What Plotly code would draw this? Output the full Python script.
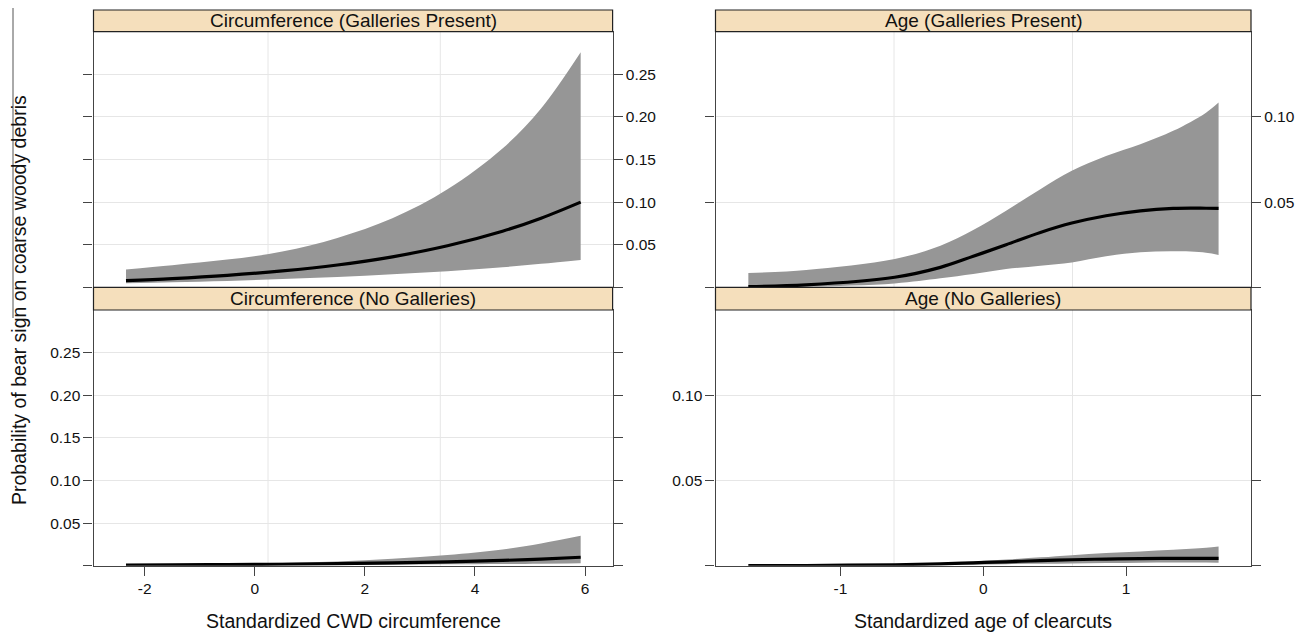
import plotly.graph_objects as go

# ---------------- data ----------------
circ_x = [-2.34, -1.5, -0.5, 0.5, 1.5, 2.5, 3.5, 4.5, 5.2, 5.92]
circ_gal_fit = [0.0078, 0.0102, 0.0140, 0.0192, 0.0262, 0.0358, 0.0487, 0.0658, 0.0811, 0.100]
circ_gal_upper = [0.021, 0.026, 0.0325, 0.042, 0.058, 0.081, 0.115, 0.163, 0.210, 0.276]
circ_gal_lower = [0.0048, 0.0060, 0.0075, 0.0098, 0.0120, 0.0152, 0.0188, 0.0235, 0.0275, 0.032]
circ_nog_fit = [0.0007, 0.0009, 0.0013, 0.0017, 0.0024, 0.0033, 0.0045, 0.0062, 0.0078, 0.0099]
circ_nog_upper = [0.0013, 0.0018, 0.0025, 0.0035, 0.0050, 0.0082, 0.0125, 0.019, 0.026, 0.035]
circ_nog_lower = [0.0003, 0.0004, 0.0005, 0.0007, 0.0009, 0.0012, 0.0016, 0.0019, 0.0023, 0.0028]

age_x = [-1.645, -1.24, -0.62, -0.30, -0.07, 0.16, 0.40, 0.62, 0.86, 1.10, 1.33, 1.56, 1.648]
age_gal_fit = [0.0004, 0.0014, 0.0059, 0.0117, 0.0182, 0.025, 0.0322, 0.0377, 0.042, 0.0449, 0.0463, 0.0464, 0.0463]
age_gal_upper = [0.0084, 0.0102, 0.0166, 0.0244, 0.0336, 0.0449, 0.0576, 0.0684, 0.0771, 0.084, 0.0918, 0.1025, 0.1084]
age_gal_lower = [0.0001, 0.0004, 0.0023, 0.0053, 0.0078, 0.0107, 0.0127, 0.0146, 0.0182, 0.0205, 0.0211, 0.0203, 0.019]
age_nog_fit = [0.00004, 0.00013, 0.00055, 0.0011, 0.0017, 0.0023, 0.0030, 0.0035, 0.0039, 0.0042, 0.0043, 0.0043, 0.0043]
age_nog_upper = [0.0002, 0.0004, 0.0009, 0.0016, 0.0025, 0.0036, 0.0049, 0.0062, 0.0074, 0.0084, 0.0094, 0.0105, 0.0112]
age_nog_lower = [0.00001, 0.00003, 0.0002, 0.0004, 0.0006, 0.0009, 0.0011, 0.0013, 0.0016, 0.0018, 0.0019, 0.0019, 0.0018]

strip_titles = ["Circumference (Galleries Present)", "Circumference (No Galleries)",
                "Age (Galleries Present)", "Age (No Galleries)"]
x_titles = ["Standardized CWD circumference", "Standardized age of clearcuts"]
y_title = "Probability of bear sign on coarse woody debris"

circ_xticks = [-2, 0, 2, 4, 6]
circ_xtext = ["-2", "0", "2", "4", "6"]
age_xticks = [-1, 0, 1]
age_xtext = ["-1", "0", "1"]
circ_yticks = [0, 0.05, 0.10, 0.15, 0.20, 0.25]
circ_ytext = ["", "0.05", "0.10", "0.15", "0.20", "0.25"]
age_yticks = [0, 0.05, 0.10]
age_ytext = ["", "0.05", "0.10"]
circ_grid_x = [0.24, 3.37]
age_grid_x = [-0.625, 0.625]

# ---------------- layout geometry ----------------
# page has an 8px body margin, so the figure starts at (8, 8) on the page
OFF = 8
W, H = 1306 - OFF, 633 - OFF
def px(v): return (v - OFF) / W
def py(v): return 1 - (v - OFF) / H

left_dom = [px(93.5), px(612.6)]
right_dom = [px(715.5), px(1251)]
top_dom = [py(287.3), py(31.7)]
bot_dom = [py(565.7), py(310)]
top_strip = [py(31.7), py(10)]
bot_strip = [py(310), py(287.3)]

FONT = "Liberation Sans, Arial, Helvetica, sans-serif"
BAND = "rgb(150,150,150)"
FRAME = "#444444"
GRID = "#e6e6e6"
STRIP = "#F5DFBC"

fig = go.Figure()

panels = [
    ("x", "y", circ_x, circ_gal_fit, circ_gal_upper, circ_gal_lower),
    ("x2", "y2", circ_x, circ_nog_fit, circ_nog_upper, circ_nog_lower),
    ("x3", "y3", age_x, age_gal_fit, age_gal_upper, age_gal_lower),
    ("x4", "y4", age_x, age_nog_fit, age_nog_upper, age_nog_lower),
]

for xa, ya, xs, fit, up, lo in panels:
    fig.add_trace(go.Scatter(x=xs, y=lo, xaxis=xa, yaxis=ya, mode="lines",
                             line=dict(width=0, color=BAND, shape="spline"),
                             hoverinfo="skip", showlegend=False))
    fig.add_trace(go.Scatter(x=xs, y=up, xaxis=xa, yaxis=ya, mode="lines",
                             line=dict(width=0, color=BAND, shape="spline"),
                             fill="tonexty", fillcolor=BAND,
                             hoverinfo="skip", showlegend=False))
    fig.add_trace(go.Scatter(x=xs, y=fit, xaxis=xa, yaxis=ya, mode="lines",
                             line=dict(width=3.2, color="black", shape="spline"),
                             showlegend=False))

tickfont = dict(family=FONT, size=15.5, color="#111111")
circ_range = [-2.93, 6.50]
age_range = [-1.875, 1.875]

def xax(dom, rng, anchor, ticks_on, tickvals, ticktext):
    d = dict(domain=dom, range=rng, anchor=anchor, showline=True, mirror=True,
             linecolor=FRAME, linewidth=1.2, showgrid=False, zeroline=False,
             tickfont=tickfont, fixedrange=True)
    if ticks_on:
        d.update(ticks="outside", ticklen=9, tickwidth=1.2, tickcolor=FRAME,
                 tickvals=tickvals, ticktext=ticktext, showticklabels=True)
    else:
        d.update(ticks="", showticklabels=False)
    return d

def yax(dom, rng, anchor, side, tickvals, ticktext):
    return dict(domain=dom, range=rng, anchor=anchor, side=side, showline=True,
                mirror="ticks", linecolor=FRAME, linewidth=1.2, ticks="outside",
                ticklen=9, tickwidth=1.2, tickcolor=FRAME, tickvals=tickvals,
                ticktext=ticktext, showgrid=True, gridcolor=GRID, gridwidth=1,
                zeroline=False, tickfont=tickfont, fixedrange=True)

fig.update_layout(
    width=W, height=H,
    margin=dict(l=0, r=0, t=0, b=0),
    paper_bgcolor="white", plot_bgcolor="white",
    font=dict(family=FONT, color="#111111"),
    xaxis=xax(left_dom, circ_range, "y", False, circ_xticks, circ_xtext),
    yaxis=yax(top_dom, [0, 0.30], "x", "right", circ_yticks, circ_ytext),
    xaxis2=xax(left_dom, circ_range, "y2", True, circ_xticks, circ_xtext),
    yaxis2=yax(bot_dom, [0, 0.30], "x2", "left", circ_yticks, circ_ytext),
    xaxis3=xax(right_dom, age_range, "y3", False, age_xticks, age_xtext),
    yaxis3=yax(top_dom, [0, 0.15], "x3", "right", age_yticks, age_ytext),
    xaxis4=xax(right_dom, age_range, "y4", True, age_xticks, age_xtext),
    yaxis4=yax(bot_dom, [0, 0.15], "x4", "left", age_yticks, age_ytext),
)

shapes = []
for xa, ya, gx in [("x", "y", circ_grid_x), ("x2", "y2", circ_grid_x),
                   ("x3", "y3", age_grid_x), ("x4", "y4", age_grid_x)]:
    for g in gx:
        shapes.append(dict(type="line", xref=xa, yref=ya + " domain", x0=g, x1=g,
                           y0=0, y1=1, line=dict(color=GRID, width=1), layer="below"))

annotations = []
strip_boxes = [(left_dom, top_strip), (left_dom, bot_strip),
               (right_dom, top_strip), (right_dom, bot_strip)]
for (xd, yd), title in zip(strip_boxes, strip_titles):
    shapes.append(dict(type="rect", xref="paper", yref="paper", x0=xd[0], x1=xd[1],
                       y0=yd[0], y1=yd[1], fillcolor=STRIP,
                       line=dict(color="#222222", width=1.2), layer="above"))
    annotations.append(dict(text=title, xref="paper", yref="paper",
                            x=(xd[0] + xd[1]) / 2, y=(yd[0] + yd[1]) / 2,
                            xanchor="center", yanchor="middle", showarrow=False,
                            font=dict(family=FONT, size=19, color="#111111")))
# thin rule at far left
shapes.append(dict(type="line", xref="paper", yref="paper", x0=px(13), x1=px(13),
                   y0=py(318), y1=py(8), line=dict(color="#555555", width=1)))

for dom, t in zip([left_dom, right_dom], x_titles):
    annotations.append(dict(text=t, xref="paper", yref="paper",
                            x=sum(dom) / 2, y=py(621), xanchor="center", yanchor="middle",
                            showarrow=False, font=dict(family=FONT, size=19.5, color="#111111")))
annotations.append(dict(text=y_title, xref="paper", yref="paper", textangle=-90,
                        x=px(19), y=py(300), xanchor="center", yanchor="middle",
                        showarrow=False, font=dict(family=FONT, size=19.5, color="#111111")))

fig.update_layout(shapes=shapes, annotations=annotations)
fig.write_html("out.html")
